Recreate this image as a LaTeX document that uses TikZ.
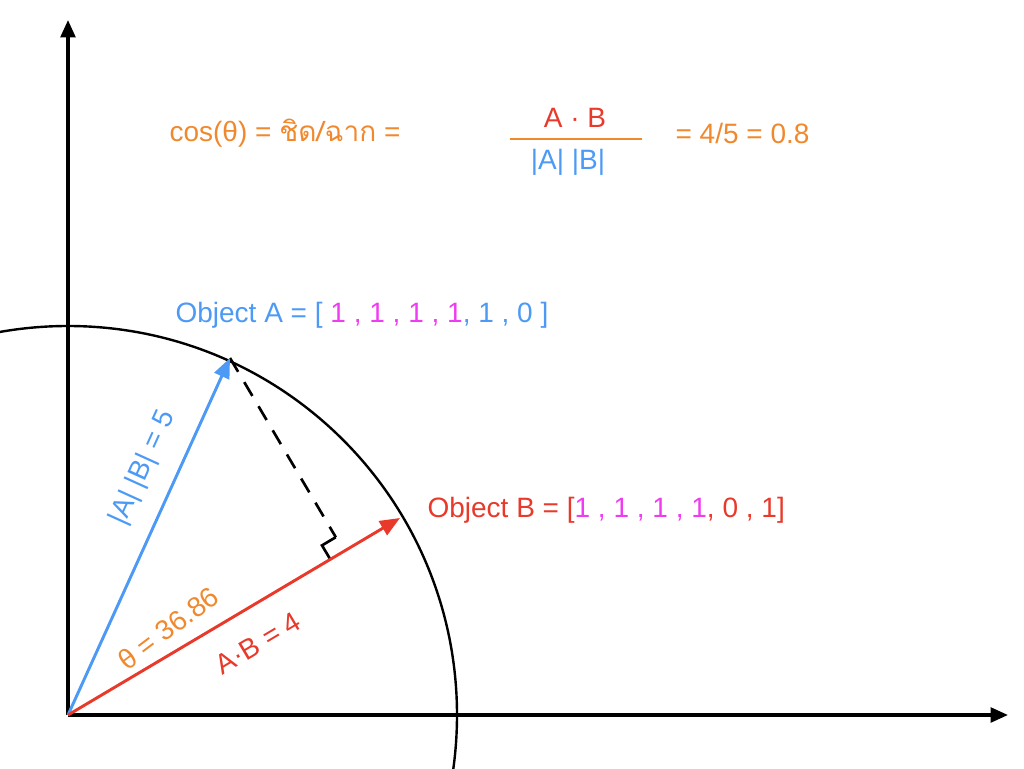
\documentclass[tikz,border=0pt]{standalone}
\usepackage{fontspec}
\setmainfont{Liberation Sans}
\newfontfamily\thaifont[Script=Thai]{Loma}
\usetikzlibrary{arrows.meta}
\definecolor{cblue}{HTML}{4C9AF5}
\definecolor{cred}{HTML}{E8392B}
\definecolor{corange}{HTML}{F0892E}
\definecolor{cmag}{HTML}{F03CF0}
\begin{document}
\begin{tikzpicture}[x=0.75pt,y=0.75pt,font=\fontsize{21}{24}\selectfont,
  axis/.style={line width=2.5pt,-{Triangle[length=13pt,width=11pt]}},
  vec/.style={line width=2.2pt,-{Triangle[length=15pt,width=12pt]}},
  lbl/.style={inner sep=1pt}]
\useasboundingbox (0,0) rectangle (1024,768);
\clip (0,0) rectangle (1024,768);
\coordinate (O) at (68,53);
\coordinate (Ytop) at (68,748);
\coordinate (Xend) at (1008,53);
\coordinate (A) at (230,410);
\coordinate (B) at (400,250);
\coordinate (F) at (344,217);
\coordinate (P1) at (330.2,208.8);
\coordinate (P2) at (322.0,222.6);
\coordinate (P3) at (335.8,230.8);
\draw[line width=1.8pt] (O) circle (389);
\draw[axis] (O) -- (Ytop);
\draw[axis] (O) -- (Xend);
\draw[line width=2pt,dash pattern=on 12pt off 9pt] (A) -- (P3);
\draw[line width=2pt] (P1) -- (P2) -- (P3);
\draw[vec,cblue] (O) -- (A);
\draw[vec,cred] (O) -- (B);
\node[lbl,text=cblue,rotate=65.6] (la) at (143,300) {|A| |B| = 5};
\node[lbl,text=corange,rotate=37] (lt) at (168,140) {θ = 36.86};
\node[lbl,text=cred,rotate=30.7] (lb) at (258,125) {A·B = 4};
\node[lbl,anchor=west] (objA) at (174,453) {\color{cblue}Object A = [ \color{cmag}1 , 1 , 1 , 1\color{cblue} , 1 , 0 ]};
\node[lbl,anchor=west] (objB) at (426,258) {\color{cred}Object B = [\color{cmag}1 , 1 , 1 , 1\color{cred} , 0 , 1]};
\node[lbl,anchor=west,text=corange] (cos) at (168,635) {cos(θ) = {\thaifont ชิด/ฉาก} =};
\node[lbl,text=cred] (num) at (575,650) {A · B};
\draw[corange,line width=1.2pt] (510,629) -- (642,629);
\node[lbl,text=cblue] (den) at (568,606) {|A| |B|};
\node[lbl,anchor=west,text=corange] (res) at (674,635) {= 4/5 = 0.8};
\end{tikzpicture}
\end{document}
